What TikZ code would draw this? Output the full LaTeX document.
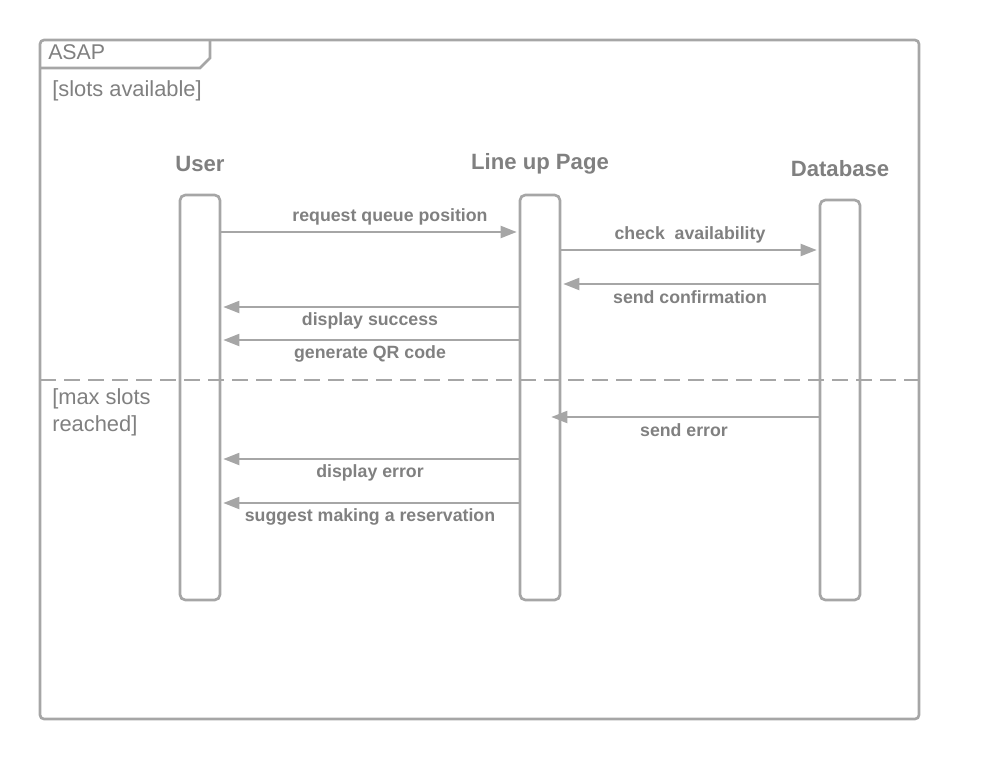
\documentclass[tikz,border=0pt]{standalone}
\usepackage{fontspec}
\setmainfont{Liberation Sans}
\usetikzlibrary{arrows.meta}
\definecolor{ln}{HTML}{A6A6A6}
\definecolor{tx}{HTML}{808080}
\begin{document}
\begin{tikzpicture}[x=0.75pt,y=-0.75pt,
  frame/.style={draw=ln,line width=2pt,rounded corners=3pt},
  life/.style={draw=ln,line width=2pt,rounded corners=4pt,minimum width=30pt,inner sep=0pt},
  actor/.style={text=tx,font=\bfseries\fontsize{16.6}{20}\selectfont,inner sep=0pt},
  msg/.style={draw=ln,line width=1.5pt,-{Triangle[length=12pt,width=9pt]}},
  mlabel/.style={text=tx,font=\bfseries\fontsize{13.3}{16}\selectfont,inner sep=0pt},
  guard/.style={text=tx,font=\fontsize{16.4}{20.25}\selectfont,inner sep=0pt,anchor=west,align=left}]
\useasboundingbox (0,0) rectangle (1000,760);
% outer frame
\draw[frame] (40,40) rectangle (919,719);
\draw[draw=ln,line width=2pt] (40,68) -- (200,68) -- (210,58) -- (210,40);
\node[guard,font=\fontsize{16}{20}\selectfont] (asap) at (48,52) {ASAP};
\node[guard] (g1) at (52,91) {[slots available]};
\node[guard] (g2) at (52,412) {[max slots\\reached]};
% actors
\node[actor] (userT) at (200,163.5) {User};
\node[actor] (lupT) at (540,163.5) {Line up Page};
\node[actor] (dbT) at (840,168.5) {Database};
% lifelines
\node[life,minimum height=303.75pt] (user) at (200,397.5) {};
\node[life,minimum height=303.75pt] (lup) at (540,397.5) {};
\node[life,minimum height=300pt] (db) at (840,400) {};
% dashed separator
\coordinate (sepL) at (40,380);
\coordinate (sepR) at (919,380);
\draw[draw=ln,line width=2pt,dash pattern=on 12pt off 6pt] (sepL) -- (sepR);
% messages
\draw[msg] (user.east |- 0,232) -- ([xshift=-1.5pt]lup.west |- 0,232);
\node[mlabel] (l1) at (390,216.5) {request queue position};
\draw[msg] (lup.east |- 0,250) -- ([xshift=-1.5pt]db.west |- 0,250);
\node[mlabel] (l2) at (690,234.5) {check\ \ availability};
\draw[msg] (db.west |- 0,284) -- ([xshift=1.5pt]lup.east |- 0,284);
\node[mlabel] (l3) at (690,297) {send confirmation};
\draw[msg] (lup.west |- 0,307) -- ([xshift=1.5pt]user.east |- 0,307);
\node[mlabel] (l4) at (370,320.5) {display success};
\draw[msg] (lup.west |- 0,340) -- ([xshift=1.5pt]user.east |- 0,340);
\node[mlabel] (l5) at (370,353.5) {generate QR code};
\draw[msg] (db.west |- 0,417) -- ([xshift=-7.5pt]lup.east |- 0,417);
\node[mlabel] (l6) at (684,430) {send error};
\draw[msg] (lup.west |- 0,459) -- ([xshift=1.5pt]user.east |- 0,459);
\node[mlabel] (l7) at (370,472.5) {display error};
\draw[msg] (lup.west |- 0,503) -- ([xshift=1.5pt]user.east |- 0,503);
\node[mlabel] (l8) at (370,516.5) {suggest making a reservation};
\end{tikzpicture}
\end{document}
